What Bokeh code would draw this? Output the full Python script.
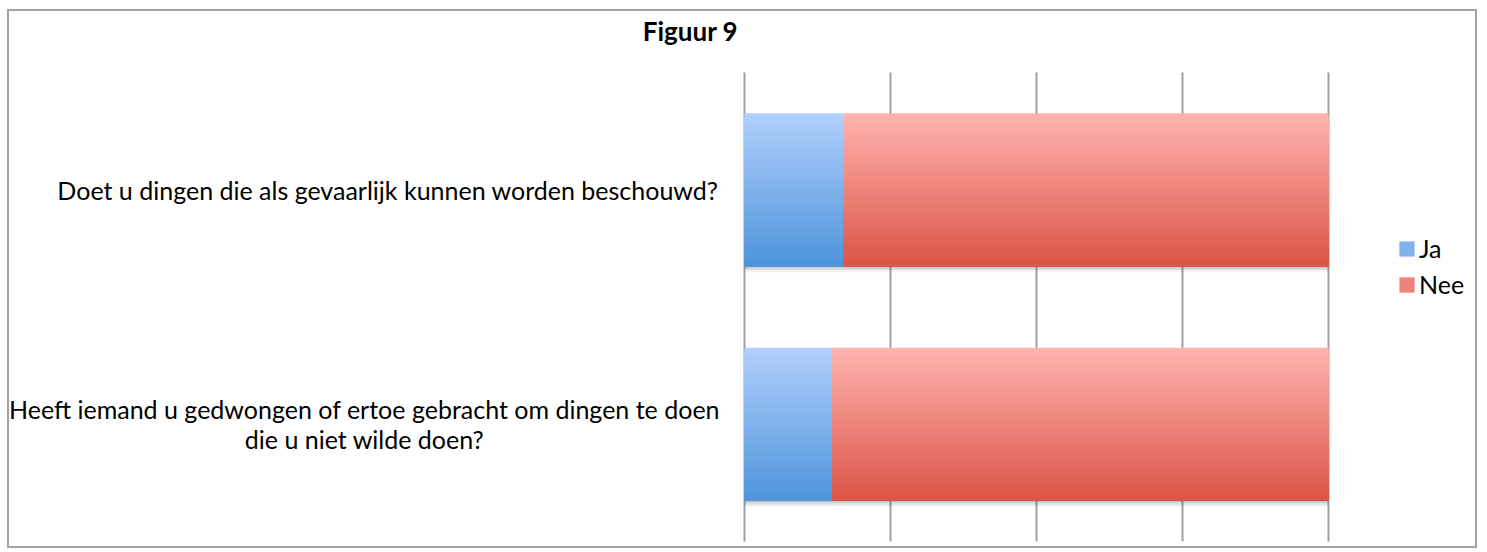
from bokeh.plotting import figure
from bokeh.models import Range1d, Label, Legend, LegendItem, ColumnDataSource
from bokeh.core.properties import value
from bokeh.embed import file_html
from bokeh.resources import INLINE

# ---- data ----
categories = [
    "Doet u dingen die als gevaarlijk kunnen worden beschouwd?",
    ["Heeft iemand u gedwongen of ertoe gebracht om dingen te doen",
     "die u niet wilde doen?"],
]
series_names = ["Ja", "Nee"]
ja = [17, 15]
nee = [83, 85]
x_ticks = [0, 25, 50, 75, 100]
title_text = "Figuur 9"

# ---- style / layout ----
FONT = "Lato"
LABEL_SIZE = "25px"
BLUE_TOP, BLUE_BOT = "#b1d0fd", "#4e93da"
RED_TOP, RED_BOT = "#ffb4af", "#db5447"
GRID_COLOR = "#a0a0a0"

W, H = 1470, 539            # drawing area (inside the css border)
PL, PT = 735, 61            # pixel position of value 0 / top of plot area
PW, PH = 584, 469           # pixel size of plot area
n = len(categories)
ux = PW / 100.0             # pixels per x unit
uy = PH / n                 # pixels per y unit

x_range = Range1d(-PL / ux, (W - PL) / ux)
y_range = Range1d(-(H - PT - PH) / uy, n + PT / uy)

p = figure(width=W, height=H, output_backend="svg", toolbar_location=None,
           x_range=x_range, y_range=y_range,
           x_axis_location=None, y_axis_location=None, min_border=0)
p.outline_line_color = None
p.grid.visible = False
p.styles = {"border": "2px solid #a2a2a2", "margin-left": "7px", "margin-top": "9px"}

# vertical gridlines
p.segment(x0=x_ticks, y0=[0] * len(x_ticks), x1=x_ticks, y1=[n] * len(x_ticks),
          line_color=GRID_COLOR, line_width=2)


def mix(c1, c2, t):
    a = [int(c1[i:i + 2], 16) for i in (1, 3, 5)]
    b = [int(c2[i:i + 2], 16) for i in (1, 3, 5)]
    return "#%02x%02x%02x" % tuple(round(a[k] + (b[k] - a[k]) * t) for k in range(3))


BAR_H = 0.652
NS = 60
ycent = [n - i - 0.5 for i in range(n)]

# soft shadow under bars
sh = dict(top=[], bottom=[], left=[], right=[], a=[])
for i in range(n):
    total = ja[i] + nee[i]
    yb = ycent[i] - BAR_H / 2
    for k, al in enumerate([0.10, 0.10, 0.08, 0.06, 0.04]):
        sh["top"].append(yb)
        sh["bottom"].append(yb - (k + 1) * 1.3 / uy)
        sh["left"].append(0)
        sh["right"].append(total)
        sh["a"].append(al)
p.quad(top="top", bottom="bottom", left="left", right="right", fill_color="#505050",
       fill_alpha="a", line_color=None, source=ColumnDataSource(sh))

renderers = []
for s, (vals, ctop, cbot) in enumerate([(ja, BLUE_TOP, BLUE_BOT), (nee, RED_TOP, RED_BOT)]):
    d = dict(top=[], bottom=[], left=[], right=[], c=[])
    for i in range(n):
        left = 0 if s == 0 else ja[i]
        right = left + vals[i]
        ytop = ycent[i] + BAR_H / 2
        ybot = ycent[i] - BAR_H / 2
        for k in range(NS):
            d["top"].append(ytop - k * BAR_H / NS)
            d["bottom"].append(ybot)
            d["left"].append(left)
            d["right"].append(right)
            d["c"].append(mix(ctop, cbot, (k + 0.5) / NS))
    r = p.quad(top="top", bottom="bottom", left="left", right="right", fill_color="c",
               line_color=None, source=ColumnDataSource(d))
    renderers.append(r)

# category labels
for i, cat in enumerate(categories):
    if isinstance(cat, str):
        p.add_layout(Label(x=-26 / ux, y=ycent[i], text=cat, text_align="right",
                           text_baseline="middle", text_font=FONT,
                           text_font_size=LABEL_SIZE, text_color="#000000"))
    else:
        m = len(cat)
        for j, line in enumerate(cat):
            off = ((m - 1) / 2 - j) * 30 / uy
            p.add_layout(Label(x=-380 / ux, y=ycent[i] + off, text=line,
                               text_align="center", text_baseline="middle",
                               text_font=FONT, text_font_size=LABEL_SIZE,
                               text_color="#000000"))

# title
p.add_layout(Label(x=-54 / ux, y=n + 42 / uy, text=title_text, text_align="center",
                   text_baseline="middle", text_font=FONT, text_font_style="bold",
                   text_font_size="26px", text_color="#000000"))

legend = Legend(items=[LegendItem(label=value(series_names[k]), renderers=[renderers[k]],
                                  index=NS // 2) for k in range(2)],
                location=(1388, 251), orientation="vertical",
                glyph_width=19, glyph_height=19, label_standoff=3, spacing=6,
                padding=0, margin=0, border_line_color=None, background_fill_alpha=0,
                label_text_font=FONT, label_text_font_size=LABEL_SIZE,
                label_text_color="#000000")
p.add_layout(legend)

open("out.html", "w").write(file_html(p, INLINE))
